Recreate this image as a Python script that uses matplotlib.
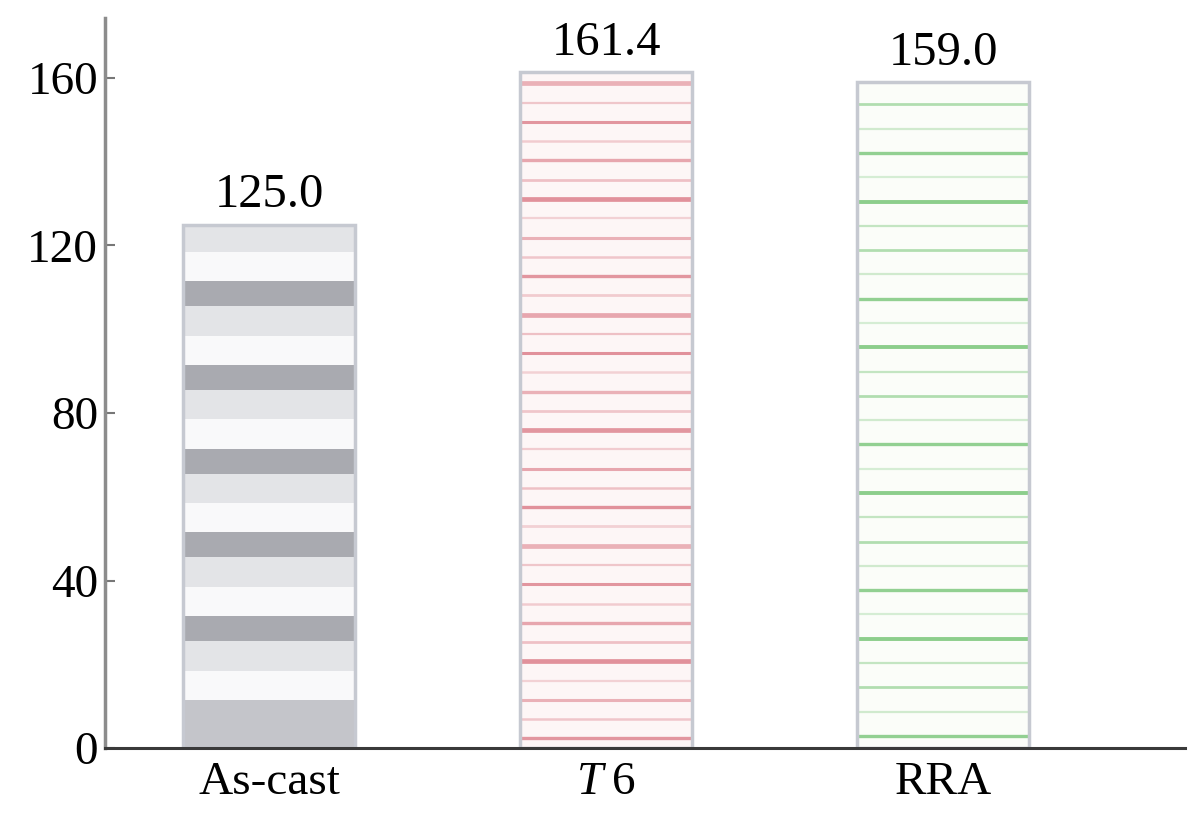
import numpy as np
import matplotlib.pyplot as plt

# данные
categories = ['As-cast', r'$T\;\mathrm{6}$', 'RRA']
values = [125.0, 161.4, 159.0]
value_labels = ['125.0', '161.4', '159.0']
yticks = [0, 40, 80, 120, 160]

plt.rcParams['font.family'] = ['Liberation Serif', 'DejaVu Serif']
plt.rcParams['mathtext.fontset'] = 'custom'
plt.rcParams['mathtext.rm'] = 'Liberation Serif'
plt.rcParams['mathtext.it'] = 'Liberation Serif:italic'

fig = plt.figure(figsize=(12, 8.22), dpi=100)
ax = fig.add_axes([0.0875, 0.09, 0.9, 0.888])

x = np.arange(len(categories))
w = 0.51


# серые полосы
def gray_bands(xc, h):
    ax.bar(xc, 11.5, w, bottom=0, color='#c4c5ca', lw=0, zorder=1)
    b = 11.5
    while b < h:
        for dh, c in ((7, '#f9f9fa'), (7, '#e3e4e7'), (6, '#a9aab0')):
            top = min(b + dh, h)
            ax.bar(xc, top - b, w, bottom=b, color=c, lw=0, zorder=1)
            b += dh
            if b >= h:
                break


# тонкие линии
def thin_lines(xc, h, base, color, step, alphas, lws):
    ax.bar(xc, h, w, color=base, lw=0, zorder=1)
    ys = np.arange(step / 2, h - 0.5, step)
    for i, y in enumerate(ys):
        ax.hlines(y, xc - w / 2, xc + w / 2, colors=color,
                  alpha=alphas[i % len(alphas)], lw=lws[i % len(lws)], zorder=2)


gray_bands(x[0], values[0])
thin_lines(x[1], values[1], '#fdf6f6', '#e08c96', 4.6,
           [0.9, 0.45, 0.65, 0.35, 0.95, 0.5, 0.75, 0.4], [2.4, 1.8, 2.2, 1.6, 3.4, 2.0])
thin_lines(x[2], values[2], '#fbfdf9', '#80c980', 5.8,
           [0.85, 0.35, 0.6, 0.45, 0.9, 0.3], [2.4, 1.6, 2.0, 1.6, 2.8, 1.6])

ax.bar(x, values, w, fill=False, edgecolor='#c6c9d1', lw=2.5, zorder=3)

for xi, v, t in zip(x, values, value_labels):
    ax.text(xi, v + 4.2, t, ha='center', va='baseline', fontsize=35)

ax.set_xlim(-0.487, 2.718)
ax.set_ylim(0, 174.3)
ax.set_yticks(yticks)
ax.set_xticks(x)
ax.set_xticklabels(categories)

ax.spines['top'].set_visible(False)
ax.spines['right'].set_visible(False)
ax.spines['left'].set_color('#8c8c8c')
ax.spines['left'].set_linewidth(2.5)
ax.spines['bottom'].set_color('#3a3a3a')
ax.spines['bottom'].set_linewidth(2.2)
ax.spines['bottom'].set_zorder(4)

ax.tick_params(axis='y', direction='in', length=7, width=1.5, color='#777777',
               pad=5, labelsize=34)
ax.tick_params(axis='x', length=0, pad=10, labelsize=34)

fig.savefig('out.png', dpi=100)
